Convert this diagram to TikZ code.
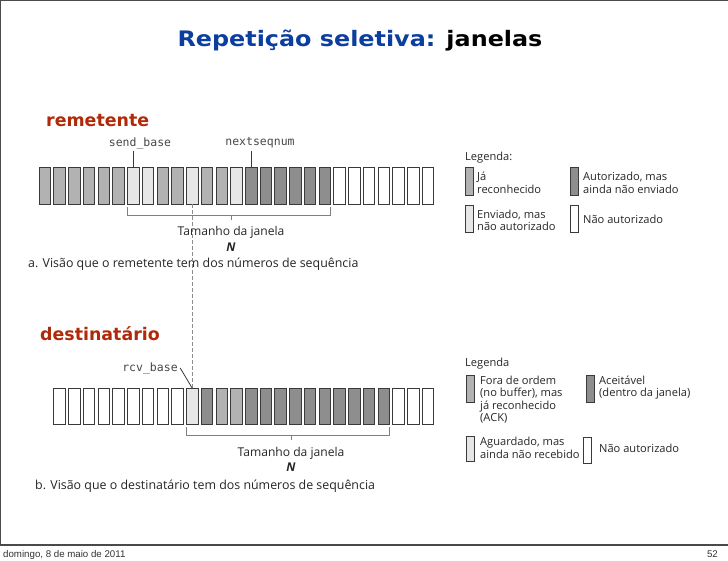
\documentclass[tikz,border=0pt]{standalone}
\usepackage{fontspec}
\setmainfont{Open Sans}
\newfontfamily\titlefont[FakeStretch=1.12]{DejaVu Sans}
\newfontfamily\rolefont{DejaVu Sans}
\newfontfamily\codefont{DejaVu Sans Mono}
\newfontfamily\footfont{Liberation Sans}
\definecolor{fillA}{HTML}{B2B2B2}
\definecolor{fillS}{HTML}{E6E6E6}
\definecolor{fillU}{HTML}{8E8E8E}
\definecolor{fillW}{HTML}{FFFFFF}
\definecolor{boxline}{HTML}{3A3A3A}
\definecolor{rolered}{HTML}{B02A0A}
\definecolor{titleblue}{HTML}{0B3E9E}
\definecolor{framec}{HTML}{4A4A4A}
\definecolor{txt}{HTML}{262626}
\begin{document}
\begin{tikzpicture}[x=1pt,y=-1pt,
  box/.style={draw=boxline,line width=0.7pt,minimum width=11.5pt,minimum height=37pt,inner sep=0pt,outer sep=0pt,anchor=north west},
  legbox/.style={draw=boxline,line width=0.7pt,minimum width=7.5pt,minimum height=27pt,inner sep=0pt,outer sep=0pt,anchor=north west},
  legtxt/.style={anchor=north west,align=left,inner sep=0pt,text=txt,font=\fontsize{11.1}{12.5}\selectfont},
  legone/.style={anchor=base west,inner sep=0pt,text=txt,font=\fontsize{11.1}{12.5}\selectfont},
  code/.style={inner sep=0.5pt,outer sep=2pt,text=txt!85,font=\codefont\fontsize{11.5}{13}\selectfont},
  role/.style={anchor=base west,inner sep=0pt,text=rolered,font=\rolefont\bfseries\fontsize{17.4}{20}\selectfont},
  bracket/.style={draw=black!50,line width=0.9pt},
  lbl/.style={inner sep=0pt,text=txt,font=\fontsize{12.1}{13}\selectfont},
  captxt/.style={anchor=west,inner sep=0pt,text=txt,font=\fontsize{12.4}{14}\selectfont},
  conn/.style={draw=boxline,line width=0.8pt}]
\useasboundingbox (0,0) rectangle (728,561);
\fill[white] (0,0) rectangle (728,561);
% frame
\draw[framec,line width=1.4pt] (0.7,545) -- (0.7,0.7) -- (728,0.7);
\draw[framec,line width=1.4pt] (0,545) -- (728,545);
% title
\node[anchor=base,inner sep=0pt,font=\titlefont\bfseries\fontsize{21.3}{24}\selectfont] (title) at (360,46.5) {\textcolor{titleblue}{Repetição seletiva:} janelas};
% sender
\node[role] (rem) at (46,127) {remetente};
\foreach \c [count=\i] in {A,A,A,A,A,A,S,S,A,A,S,A,A,S,U,U,U,U,U,U,W,W,W,W,W,W,W}
  \node[box,fill=fill\c] (s\i) at ({39+(\i-1)*14.74},167) {};
\node[code] (sb) at (140,143) {send\_base};
\node[code] (nsn) at (260,143) {nextseqnum};
\draw[conn] (s7.north) -- (s7.north |- sb.south);
\draw[conn] (s15.north) -- (s15.north |- nsn.south);
\node[lbl] (tj1) at (231,232) {Tamanho da janela};
\node[lbl] (n1) at (231,247) {\textbf{\textit{N}}};
\draw[bracket] ([yshift=-3pt]s7.south west) -- (s7.south west |- 0,215) -- (s20.south east |- 0,215) -- ([yshift=-3pt]s20.south east);
\draw[bracket] (tj1.north |- 0,215) -- (tj1.north |- 0,220);
\node[captxt] (capa) at (28,264) {a. Visão que o remetente tem dos números de sequência};
% legend 1
\node[legone] (leg1) at (465,160.5) {Legenda:};
\node[legbox,fill=fillA,minimum height=28pt] (lg1) at (465.5,167) {};
\node[legbox,fill=fillU,minimum height=28pt] (lg2) at (570.5,167) {};
\node[legbox,fill=fillS] (lg3) at (465.5,205) {};
\node[legbox,fill=fillW] (lg4) at (570.5,205) {};
\node[legtxt] (t1) at (477,171.8) {\strut Já\\reconhecido};
\node[legtxt] (t2) at (583,171.8) {\strut Autorizado, mas\\ainda não enviado};
\node[legtxt] (t3) at (477,209.3) {\strut Enviado, mas\\não autorizado};
\node[legone] (t4) at (583,224) {Não autorizado};
% receiver
\node[role] (dst) at (40,340.5) {destinatário};
\foreach \c [count=\i] in {W,W,W,W,W,W,W,W,W,S,U,A,A,U,U,U,U,U,U,U,U,U,U,W,W,W}
  \node[box,fill=fill\c,minimum height=36pt] (r\i) at ({53.74+(\i-1)*14.74},388) {};
\draw[black!45,line width=0.7pt,dash pattern=on 4pt off 2pt] (s11.south) -- (r10.north);
\node[code] (rb) at (150,368) {rcv\_base};
\draw[conn] (rb.east) -- (r10.north);
\node[lbl] (tj2) at (291,453) {Tamanho da janela};
\node[lbl] (n2) at (291,467) {\textbf{\textit{N}}};
\draw[bracket] ([yshift=-3pt]r10.south west) -- (r10.south west |- 0,435) -- (r23.south east |- 0,435) -- ([yshift=-3pt]r23.south east);
\draw[bracket] (tj2.north |- 0,435) -- (tj2.north |- 0,440);
\node[captxt] (capb) at (35,486) {b. Visão que o destinatário tem dos números de sequência};
% legend 2
\node[legone] (leg2) at (465,366.5) {Legenda};
\node[legbox,fill=fillA,minimum width=8pt] (lg5) at (466.7,375) {};
\node[legbox,fill=fillU,minimum width=8pt] (lg6) at (586.7,375) {};
\node[legbox,fill=fillS,minimum width=8pt,minimum height=25pt] (lg7) at (466.7,436) {};
\node[legbox,fill=fillW,minimum width=8pt,minimum height=26pt] (lg8) at (583.5,437) {};
\node[legtxt] (t5) at (480,375.4) {\strut Fora de ordem\\(no buffer), mas\\já reconhecido\\(ACK)};
\node[legtxt] (t6) at (599,375.4) {\strut Aceitável\\(dentro da janela)};
\node[legtxt] (t7) at (480,436.8) {\strut Aguardado, mas\\ainda não recebido};
\node[legone] (t8) at (599,452.5) {Não autorizado};
% footer
\node[anchor=base west,inner sep=0pt,text=black!80,font=\footfont\fontsize{9.7}{11}\selectfont] (foot) at (3,557) {domingo, 8 de maio de 2011};
\node[anchor=base east,inner sep=0pt,text=black!80,font=\footfont\fontsize{9.7}{11}\selectfont] (pg) at (718,557) {52};
\end{tikzpicture}
\end{document}
